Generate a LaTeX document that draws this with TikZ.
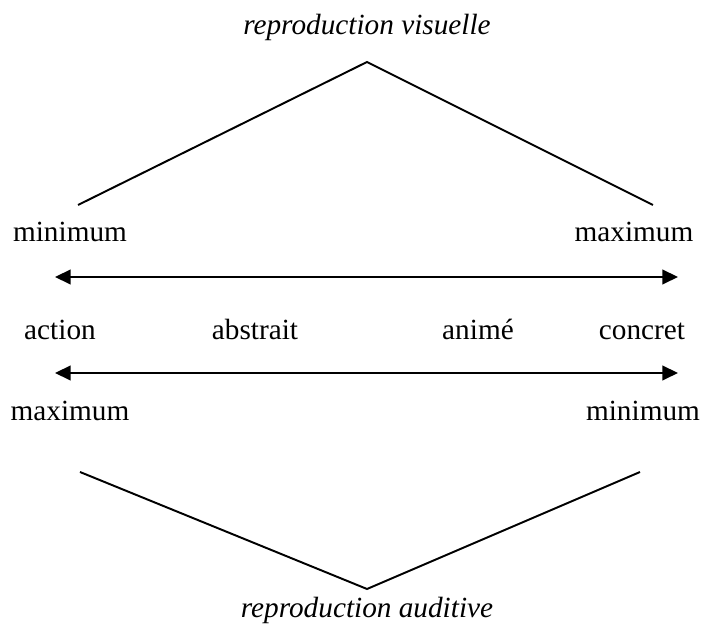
\documentclass[tikz,border=0pt]{standalone}
\usepackage{fontspec}
\setmainfont{Liberation Serif}
\usetikzlibrary{arrows.meta}

\begin{document}
\begin{tikzpicture}[x=0.41pt,y=-0.41pt,
		line width=0.8pt,
		lbl/.style={inner sep=0pt,text height=1.6ex,text depth=0.4ex,font=\fontsize{12}{14}\selectfont},
		axe/.style={{Triangle[length=6.4pt,width=6pt]}-{Triangle[length=6.4pt,width=6pt]}}]
				\useasboundingbox (0,0) rectangle (703,626);
				\node[lbl] (visu) at (367,28) {\itshape reproduction visuelle};
				\node[lbl] (audi) at (367,611) {\itshape reproduction auditive};
				\coordinate (haut) at (367,62);
				\coordinate (hg) at (78,205);
				\coordinate (hd) at (653,205);
				\coordinate (bas) at (367,589);
				\coordinate (bg) at (80,472);
				\coordinate (bd) at (640,472);
				\node[lbl] (min1) at (70,235) {minimum};
				\node[lbl] (max1) at (634,235) {maximum};
				\node[lbl] (max2) at (70,414) {maximum};
				\node[lbl] (min2) at (643,414) {minimum};
				\node[lbl] (action) at (60,333) {action};
				\node[lbl] (abstrait) at (255,333) {abstrait};
				\node[lbl] (anime) at (478,333) {animé};
				\node[lbl] (concret) at (642,333) {concret};
				\coordinate (a1g) at (55,277);
				\coordinate (a1d) at (678,277);
				\coordinate (a2g) at (55,373);
				\coordinate (a2d) at (678,373);
				\draw (hg) -- (haut) -- (hd);
				\draw (bg) -- (bas) -- (bd);
				\draw[axe] (a1g) -- (a1d);
				\draw[axe] (a2g) -- (a2d);
			\end{tikzpicture}
\end{document}
